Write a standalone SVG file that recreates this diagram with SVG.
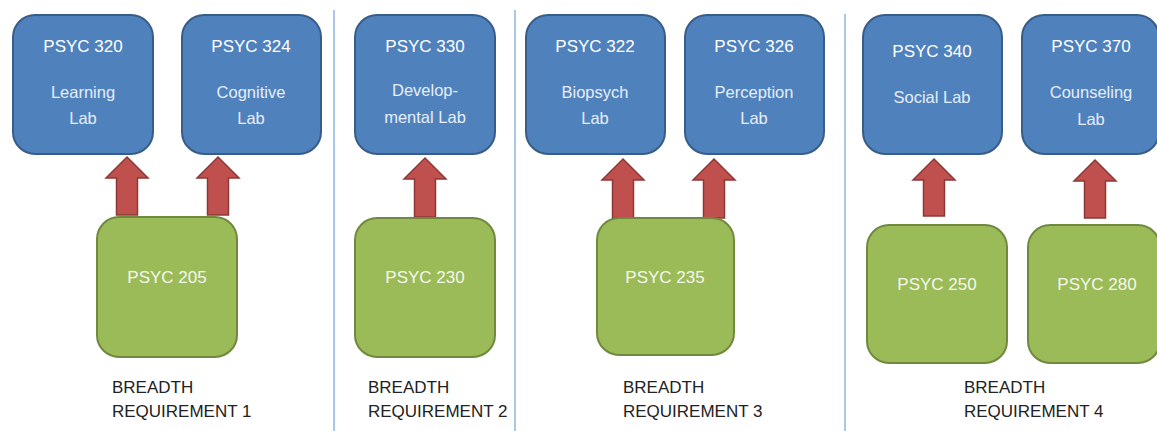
<svg xmlns="http://www.w3.org/2000/svg" width="1157" height="431" viewBox="0 0 1157 431">
<style>
.bg{fill:#ffffff}
.lab{fill:#4f81bd;stroke:#385d8a;stroke-width:2}
.pre{fill:#9bbb59;stroke:#71893f;stroke-width:2}
.arr{fill:#c0504d;stroke:#8c3836;stroke-width:1.5}
.div{stroke:#8eb4e3;stroke-width:1.5}
.t{font-family:"Liberation Sans",Arial,sans-serif;text-anchor:middle}
.code{font-size:17px;fill:#ffffff}
.sub{font-size:16.5px;fill:#e6eef8}
.gt{font-size:17px;fill:#f4f8ec}
.req{font-family:"Liberation Sans",Arial,sans-serif;font-size:17px;fill:#222222}
</style>
<rect class="bg" x="0" y="0" width="1157" height="431"/>
<g id="dividers">
<line class="div" x1="334" y1="10" x2="334" y2="431"/>
<line class="div" x1="515" y1="10" x2="515" y2="431"/>
<line class="div" x1="845" y1="14" x2="845" y2="431"/>
</g>
<g id="connectors">
<path id="a1" class="arr" d="M127,157 L148,178 L137.5,178 L137.5,215 L116.5,215 L116.5,178 L106,178 Z"/>
<path id="a2" class="arr" d="M218,157 L239,178 L228.5,178 L228.5,215 L207.5,215 L207.5,178 L197,178 Z"/>
<path id="a3" class="arr" d="M425,158 L446,179 L435.5,179 L435.5,217 L414.5,217 L414.5,179 L404,179 Z"/>
<path id="a4" class="arr" d="M623,159 L644,180 L633.5,180 L633.5,218 L612.5,218 L612.5,180 L602,180 Z"/>
<path id="a5" class="arr" d="M714,159 L735,180 L724.5,180 L724.5,218 L703.5,218 L703.5,180 L693,180 Z"/>
<path id="a6" class="arr" d="M934,159 L955,180 L944.5,180 L944.5,216 L923.5,216 L923.5,180 L913,180 Z"/>
<path id="a7" class="arr" d="M1095,160 L1116,181 L1105.5,181 L1105.5,218 L1084.5,218 L1084.5,181 L1074,181 Z"/>
</g>
<g id="psyc320">
<rect class="lab" x="13" y="15" width="140" height="139" rx="22"/>
<text class="t code" x="83" y="52">PSYC 320</text>
<text class="t sub" x="83" y="98">Learning</text>
<text class="t sub" x="83" y="124">Lab</text>
</g>
<g id="psyc324">
<rect class="lab" x="182" y="15" width="139" height="139" rx="22"/>
<text class="t code" x="251" y="52">PSYC 324</text>
<text class="t sub" x="251" y="98">Cognitive</text>
<text class="t sub" x="251" y="124">Lab</text>
</g>
<g id="psyc330">
<rect class="lab" x="355" y="15" width="140" height="139" rx="22"/>
<text class="t code" x="425" y="52">PSYC 330</text>
<text class="t sub" x="425" y="96">Develop-</text>
<text class="t sub" x="425" y="123">mental Lab</text>
</g>
<g id="psyc322">
<rect class="lab" x="526" y="15" width="139" height="139" rx="22"/>
<text class="t code" x="595" y="52">PSYC 322</text>
<text class="t sub" x="595" y="98">Biopsych</text>
<text class="t sub" x="595" y="124">Lab</text>
</g>
<g id="psyc326">
<rect class="lab" x="685" y="15" width="139" height="139" rx="22"/>
<text class="t code" x="754" y="52">PSYC 326</text>
<text class="t sub" x="754" y="98">Perception</text>
<text class="t sub" x="754" y="124">Lab</text>
</g>
<g id="psyc340">
<rect class="lab" x="863" y="15" width="139" height="139" rx="22"/>
<text class="t code" x="932" y="57">PSYC 340</text>
<text class="t sub" x="932" y="103">Social Lab</text>
</g>
<g id="psyc370">
<rect class="lab" x="1022" y="15" width="137" height="139" rx="22"/>
<text class="t code" x="1091" y="52">PSYC 370</text>
<text class="t sub" x="1091" y="98">Counseling</text>
<text class="t sub" x="1091" y="125">Lab</text>
</g>
<g id="psyc205">
<rect class="pre" x="97" y="217" width="140" height="140" rx="22"/>
<text class="t gt" x="167" y="283">PSYC 205</text>
</g>
<g id="psyc230">
<rect class="pre" x="355" y="218" width="140" height="139" rx="22"/>
<text class="t gt" x="425" y="283">PSYC 230</text>
</g>
<g id="psyc235">
<rect class="pre" x="597" y="218" width="137" height="137" rx="22"/>
<text class="t gt" x="665" y="283">PSYC 235</text>
</g>
<g id="psyc250">
<rect class="pre" x="867" y="225" width="140" height="138" rx="22"/>
<text class="t gt" x="937" y="290">PSYC 250</text>
</g>
<g id="psyc280">
<rect class="pre" x="1028" y="225" width="132" height="138" rx="22"/>
<text class="t gt" x="1097" y="290">PSYC 280</text>
</g>
<g id="req1">
<text class="req" x="112" y="393">BREADTH</text>
<text class="req" x="112" y="417">REQUIREMENT 1</text>
</g>
<g id="req2">
<text class="req" x="368" y="393">BREADTH</text>
<text class="req" x="368" y="417">REQUIREMENT 2</text>
</g>
<g id="req3">
<text class="req" x="623" y="393">BREADTH</text>
<text class="req" x="623" y="417">REQUIREMENT 3</text>
</g>
<g id="req4">
<text class="req" x="964" y="393">BREADTH</text>
<text class="req" x="964" y="417">REQUIREMENT 4</text>
</g>
</svg>
